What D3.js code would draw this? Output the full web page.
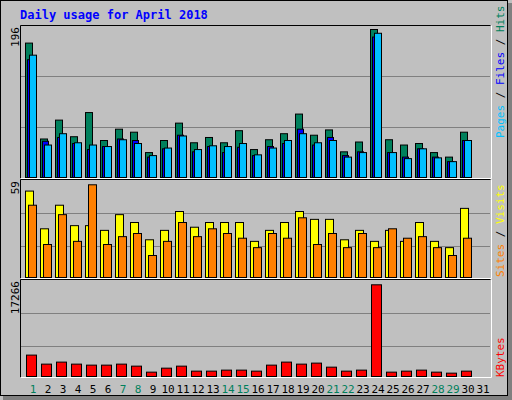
<!DOCTYPE html>
<html><head><meta charset="utf-8">
<script src="https://cdn.jsdelivr.net/npm/d3@7"></script>
<style>body{margin:0;background:#fff}</style>
</head><body>
<svg id="chart" width="512" height="400"></svg>
<script>
const days = d3.range(1, 32);
const weekends = [1, 7, 8, 14, 15, 21, 22, 28, 29];
const hits  = [178,51,76,54,86,49,64,60,33,49,72,46,53,46,62,37,50,58,84,56,63,34,47,196,50,43,45,33,27,60,0];
const files = [156,48,53,45,37,41,51,49,27,38,56,34,41,33,40,29,41,45,64,43,53,29,34,186,33,27,38,27,21,49,0];
const pages = [162,43,58,46,43,41,50,45,29,39,55,37,42,41,45,30,39,49,58,46,49,27,33,191,33,25,38,26,21,49,0];
const sites  = [55,31,46,33,33,30,40,35,24,30,42,32,35,35,35,23,30,35,42,37,37,24,30,23,30,23,35,23,19,44,0];
const visits = [46,21,40,23,59,21,26,28,14,23,35,26,31,28,25,19,28,25,38,21,28,19,28,19,31,25,26,19,14,25,0];
const kbytes = [4030,2330,2710,2330,2140,2140,2330,1950,820,1570,1950,1010,1010,1200,1200,1010,2140,2710,2330,2520,1760,1010,1200,17266,820,1010,1200,820,630,1010,0];

const svg = d3.select('#chart');
const mono = 'DejaVu Sans Mono, monospace';

// background and frame
svg.append('rect').attr('width', 512).attr('height', 400).attr('fill', '#c0c0c0');
svg.append('rect').attr('x', 508).attr('y', 3).attr('width', 4).attr('height', 397).attr('fill', '#808080');
svg.append('rect').attr('x', 3).attr('y', 396).attr('width', 509).attr('height', 4).attr('fill', '#808080');
svg.append('rect').attr('x', 0.5).attr('y', 0.5).attr('width', 507).attr('height', 395)
  .attr('fill', 'none').attr('stroke', '#000');

svg.append('text').attr('x', 20).attr('y', 19).text('Daily usage for April 2018')
  .attr('font-family', mono).attr('font-weight', 'bold').attr('font-size', 12).attr('fill', '#0000ff');

const x = d3.scaleBand().domain(days).range([20, 485]);

// panels: top y, baseline, max y
const panels = [
  {top: 25, base: 177, ymax: 29, max: 196, grid: [76, 127], label: '196'},
  {top: 179, base: 277, ymax: 184.3, max: 59, grid: [213, 246], label: '59'},
  {top: 279, base: 376, ymax: 284.3, max: 17266, grid: [313, 346], label: '17266'}
];

panels.forEach(p => {
  p.y = d3.scaleLinear().domain([0, p.max]).range([p.base, p.ymax]);
  p.grid.forEach(g => svg.append('line').attr('x1', 21).attr('x2', 490).attr('y1', g + 0.5).attr('y2', g + 0.5)
    .attr('stroke', '#808080'));
  svg.append('path').attr('d', `M20.5,${p.base + 1.5}V${p.top + 0.5}H490.5`).attr('fill', 'none').attr('stroke', '#000');
  svg.append('path').attr('d', `M20.5,${p.base + 1.5}H491.5V${p.top + 0.5}`).attr('fill', 'none').attr('stroke', '#fff');
  svg.append('text').attr('transform', `translate(19,${p.top + 2}) rotate(-90)`)
    .attr('text-anchor', 'end').attr('font-family', mono).attr('font-size', 11).text(p.label);
});

function bars(panel, data, dx, w, color) {
  svg.append('g').selectAll('rect').data(data).enter()
    .filter(d => d > 0)
    .append('rect')
    .attr('x', (d, i) => x(days[data.indexOf(d) >= 0 ? i : i]) + dx + 0.5)
    .attr('y', d => panel.y(d) + 0.5)
    .attr('width', w)
    .attr('height', d => panel.base - panel.y(d))
    .attr('fill', color).attr('stroke', '#000');
}
// use index-preserving version
function bars2(panel, data, dx, w, color) {
  svg.append('g').selectAll('rect').data(days).enter()
    .append('rect')
    .attr('x', d => x(d) + dx + 0.5)
    .attr('y', d => panel.y(data[d - 1]) + 0.5)
    .attr('width', w)
    .attr('height', d => panel.base - panel.y(data[d - 1]))
    .attr('fill', color).attr('stroke', '#000')
    .attr('display', d => data[d - 1] > 0 ? null : 'none');
}
bars2(panels[0], hits, 5, 7, '#00805c');
bars2(panels[0], files, 7, 6, '#0000ff');
bars2(panels[0], pages, 9, 7, '#00c0ff');
bars2(panels[1], sites, 5, 8, '#ffff00');
bars2(panels[1], visits, 8, 8, '#ff8000');
bars2(panels[2], kbytes, 6, 10, '#ff0000');

// day labels
svg.append('g').selectAll('text').data(days).enter().append('text')
  .attr('x', d => x(d) + 13).attr('y', 393).attr('text-anchor', 'middle')
  .attr('font-family', mono).attr('font-size', 11)
  .attr('fill', d => weekends.includes(d) ? '#00805c' : '#000')
  .text(d => d);

// right side legends
function legend(y, parts) {
  const t = svg.append('text').attr('transform', `translate(504,${y}) rotate(-90)`)
    .attr('font-family', mono).attr('font-size', 11);
  parts.forEach(([s, c]) => t.append('tspan').attr('fill', c).text(s));
}
legend(138, [['Pages', '#00c0ff'], [' / ', '#000'], ['Files', '#0000ff'], [' / ', '#000'], ['Hits', '#00805c']]);
legend(277, [['Sites', '#ff8000'], [' / ', '#000'], ['Visits', '#ffff00']]);
legend(377, [['KBytes', '#ff0000']]);
</script>
</body></html>
